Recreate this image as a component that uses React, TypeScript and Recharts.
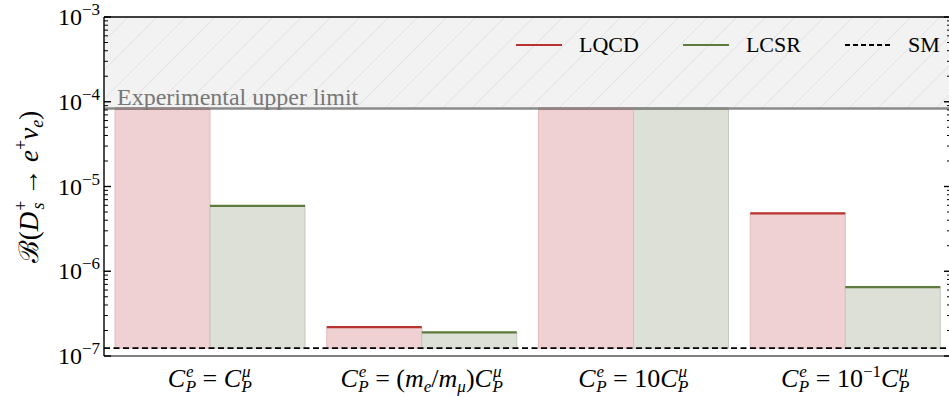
import {
  BarChart,
  Bar,
  XAxis,
  YAxis,
  ReferenceArea,
  ReferenceLine,
} from 'recharts';

// Chart values
const CATEGORIES = ['Ce=Cmu', 'Ce=(me/mmu)Cmu', 'Ce=10Cmu', 'Ce=0.1Cmu'];
const LQCD = [8.3e-5, 2.19e-7, 8.3e-5, 4.83e-6];
const LCSR = [5.9e-6, 1.9e-7, 8.3e-5, 6.5e-7];
const SM = 1.24e-7;
const UPPER_LIMIT = 8.3e-5;
const Y_MAJOR = [1e-7, 1e-6, 1e-5, 1e-4, 1e-3];
const Y_MINOR_MULT = [2, 3, 4, 5, 6, 7, 8, 9];

const Y_TICKS = [
  ...Y_MAJOR,
  ...Y_MAJOR.slice(0, -1).flatMap((m) => Y_MINOR_MULT.map((k) => k * m)),
].sort((a, b) => a - b);

const data = CATEGORIES.map((name, i) => ({
  name,
  lqcd: [SM, LQCD[i]],
  lcsr: [SM, LCSR[i]],
}));

const COLORS = {
  lqcdFill: '#efd1d3',
  lqcdEdge: '#e6b9bb',
  lqcdTop: '#b8332f',
  lcsrFill: '#dce0d6',
  lcsrEdge: '#c3c9bb',
  lcsrTop: '#5d7b3d',
  limit: '#8a8a8a',
  limitText: '#777777',
};

const SERIF = 'Liberation Serif';
const PLOT_LEFT = 104;
const PLOT_RIGHT = 951;

// ─── Bar shape: translucent box with a solid top edge ───────────────────────

const barShape = (fill: string, edge: string, top: string) => (props: any) => {
  const { x, y, width, height } = props;
  if (!height || height <= 0) return null;
  return (
    <g>
      <rect x={x} y={y} width={width} height={height} fill={fill} stroke={edge} strokeWidth={1} />
      <line x1={x} x2={x + width} y1={y} y2={y} stroke={top} strokeWidth={2.2} />
    </g>
  );
};

// ─── Axis ticks ─────────────────────────────────────────────────────────────

const YTick = (props: any) => {
  const { payload } = props;
  const v = payload.value;
  const cy = payload.coordinate;
  const exp = Math.round(Math.log10(v));
  const major = Math.abs(Math.log10(v) - exp) < 1e-6;
  const len = major ? 7 : 4;
  return (
    <g>
      <line x1={PLOT_LEFT} x2={PLOT_LEFT + len} y1={cy} y2={cy} stroke="#000" strokeWidth={major ? 1.4 : 1} />
      <line x1={PLOT_RIGHT - len} x2={PLOT_RIGHT} y1={cy} y2={cy} stroke="#000" strokeWidth={major ? 1.4 : 1} />
      {major && (
        <text x={100} y={cy + 8} textAnchor="end" style={{ fontFamily: SERIF }} fontSize={24} fill="#000">
          10<tspan fontSize={17} dy={-10}>{'\u2212' + Math.abs(exp)}</tspan>
        </text>
      )}
    </g>
  );
};

const S = 17; // script size

const Cp = (sup: string, k: string, supW: number) => [
  <tspan key={k + 'c'} fontStyle="italic">C</tspan>,
  <tspan key={k + 's'} fontSize={S} fontStyle="italic" dx={1} dy={-10}>{sup}</tspan>,
  <tspan key={k + 'b'} fontSize={S} fontStyle="italic" dx={-supW} dy={15}>P</tspan>,
];

const EQ = '\u00a0=\u00a0';

function xLabel(i: number) {
  switch (i) {
    case 0:
      return [...Cp('e', 'a', 8), <tspan key="eq" dy={-5}>{EQ}</tspan>, ...Cp('\u03bc', 'b', 9)];
    case 1:
      return [
        ...Cp('e', 'a', 8),
        <tspan key="eq" dy={-5}>{EQ + '('}</tspan>,
        <tspan key="m1" fontStyle="italic">m</tspan>,
        <tspan key="e1" fontSize={S} fontStyle="italic" dy={5}>e</tspan>,
        <tspan key="sl" dy={-5}>/</tspan>,
        <tspan key="m2" fontStyle="italic">m</tspan>,
        <tspan key="e2" fontSize={S} fontStyle="italic" dy={5}>{'\u03bc'}</tspan>,
        <tspan key="cp" dy={-5}>)</tspan>,
        ...Cp('\u03bc', 'b', 9),
      ];
    case 2:
      return [...Cp('e', 'a', 8), <tspan key="eq" dy={-5}>{EQ + '10'}</tspan>, ...Cp('\u03bc', 'b', 9)];
    default:
      return [
        ...Cp('e', 'a', 8),
        <tspan key="eq" dy={-5}>{EQ + '10'}</tspan>,
        <tspan key="ex" fontSize={S} dy={-10}>{'\u22121'}</tspan>,
        <tspan key="c2" fontStyle="italic" dy={10}>C</tspan>,
        <tspan key="s2" fontSize={S} fontStyle="italic" dx={1} dy={-10}>{'\u03bc'}</tspan>,
        <tspan key="b2" fontSize={S} fontStyle="italic" dx={-9} dy={15}>P</tspan>,
      ];
  }
}

const XTick = (props: any) => {
  const { x, payload } = props;
  const i = CATEGORIES.indexOf(payload.value);
  return (
    <text x={x} y={387} textAnchor="middle" style={{ fontFamily: SERIF }} fontSize={26} fill="#000">
      {xLabel(i)}
    </text>
  );
};

const YLabel = () => (
  <text
    transform="rotate(-90)"
    x={-187}
    y={38}
    textAnchor="middle"
    style={{ fontFamily: SERIF }}
    fontSize={27}
    fill="#000"
  >
    <tspan>{'\u212c'}</tspan>
    <tspan>(</tspan>
    <tspan fontStyle="italic">D</tspan>
    <tspan fontSize={18} dx={1} dy={-11}>+</tspan>
    <tspan fontSize={18} fontStyle="italic" dx={-9} dy={17}>s</tspan>
    <tspan dy={-6}>{'\u00a0\u2192\u00a0'}</tspan>
    <tspan fontStyle="italic">e</tspan>
    <tspan fontSize={18} dy={-11}>+</tspan>
    <tspan fontStyle="italic" dy={11}>{'\u03bd'}</tspan>
    <tspan fontSize={18} fontStyle="italic" dy={5}>e</tspan>
    <tspan dy={-5}>)</tspan>
  </text>
);

const LimitLabel = (props: any) => {
  const { viewBox } = props;
  return (
    <text x={viewBox.x + 13} y={viewBox.y - 4} style={{ fontFamily: SERIF }} fontSize={24} fill={COLORS.limitText}>
      Experimental upper limit
    </text>
  );
};

// ─── Legend (HTML overlay) ──────────────────────────────────────────────────

const LEGEND = [
  { label: 'LQCD', color: COLORS.lqcdTop, dash: undefined },
  { label: 'LCSR', color: COLORS.lcsrTop, dash: undefined },
  { label: 'SM', color: '#000', dash: '5 3' },
];

function ChartLegend() {
  return (
    <div
      style={{
        position: 'absolute',
        top: 33,
        left: 516,
        display: 'flex',
        alignItems: 'center',
        gap: 44,
        fontFamily: SERIF,
        fontSize: 22,
        lineHeight: '24px',
      }}
    >
      {LEGEND.map((item) => (
        <div key={item.label} style={{ display: 'flex', alignItems: 'center', gap: 17 }}>
          <svg width={46} height={6}>
            <line x1={0} x2={46} y1={3} y2={3} stroke={item.color} strokeWidth={2} strokeDasharray={item.dash} />
          </svg>
          <span>{item.label}</span>
        </div>
      ))}
    </div>
  );
}

export default function App() {
  return (
    <div
      style={{
        position: 'absolute',
        left: 0,
        top: 0,
        width: 949,
        height: 396,
        overflow: 'hidden',
        background: '#fff',
      }}
    >
      <BarChart
        width={960}
        height={396}
        data={data}
        margin={{ top: 17, right: 960 - PLOT_RIGHT, left: 0, bottom: 0 }}
        barGap={0}
        barCategoryGap="5.2%"
      >
        <defs>
          <pattern id="hatch" patternUnits="userSpaceOnUse" width={29} height={29}>
            <rect width={29} height={29} fill="#f2f2f2" />
            <path d="M-2,2 L2,-2 M0,29 L29,0 M27,31 L31,27" stroke="#e1e1e1" strokeWidth={1} />
          </pattern>
        </defs>
        <XAxis
          dataKey="name"
          height={40}
          interval={0}
          tickLine={false}
          axisLine={{ stroke: '#808080', strokeWidth: 2 }}
          tick={<XTick />}
        />
        <YAxis
          scale="log"
          domain={[1e-7, 1e-3]}
          ticks={Y_TICKS}
          interval={0}
          allowDataOverflow
          width={PLOT_LEFT}
          tickLine={false}
          axisLine={{ stroke: '#000', strokeWidth: 1.4 }}
          tick={<YTick />}
          label={{ content: <YLabel /> }}
        />
        <ReferenceArea y1={UPPER_LIMIT} y2={1e-3} fill="url(#hatch)" fillOpacity={1} stroke="none" />
        <Bar
          dataKey="lqcd"
          isAnimationActive={false}
          shape={barShape(COLORS.lqcdFill, COLORS.lqcdEdge, COLORS.lqcdTop)}
        />
        <Bar
          dataKey="lcsr"
          isAnimationActive={false}
          shape={barShape(COLORS.lcsrFill, COLORS.lcsrEdge, COLORS.lcsrTop)}
        />
        <ReferenceLine y={1e-3} stroke="#000" strokeWidth={1.4} />
        <ReferenceLine y={SM} stroke="#000" strokeWidth={1.6} strokeDasharray="6 3.5" />
        <ReferenceLine
          y={UPPER_LIMIT}
          stroke={COLORS.limit}
          strokeWidth={2.5}
          label={<LimitLabel />}
        />
      </BarChart>
      <ChartLegend />
    </div>
  );
}
